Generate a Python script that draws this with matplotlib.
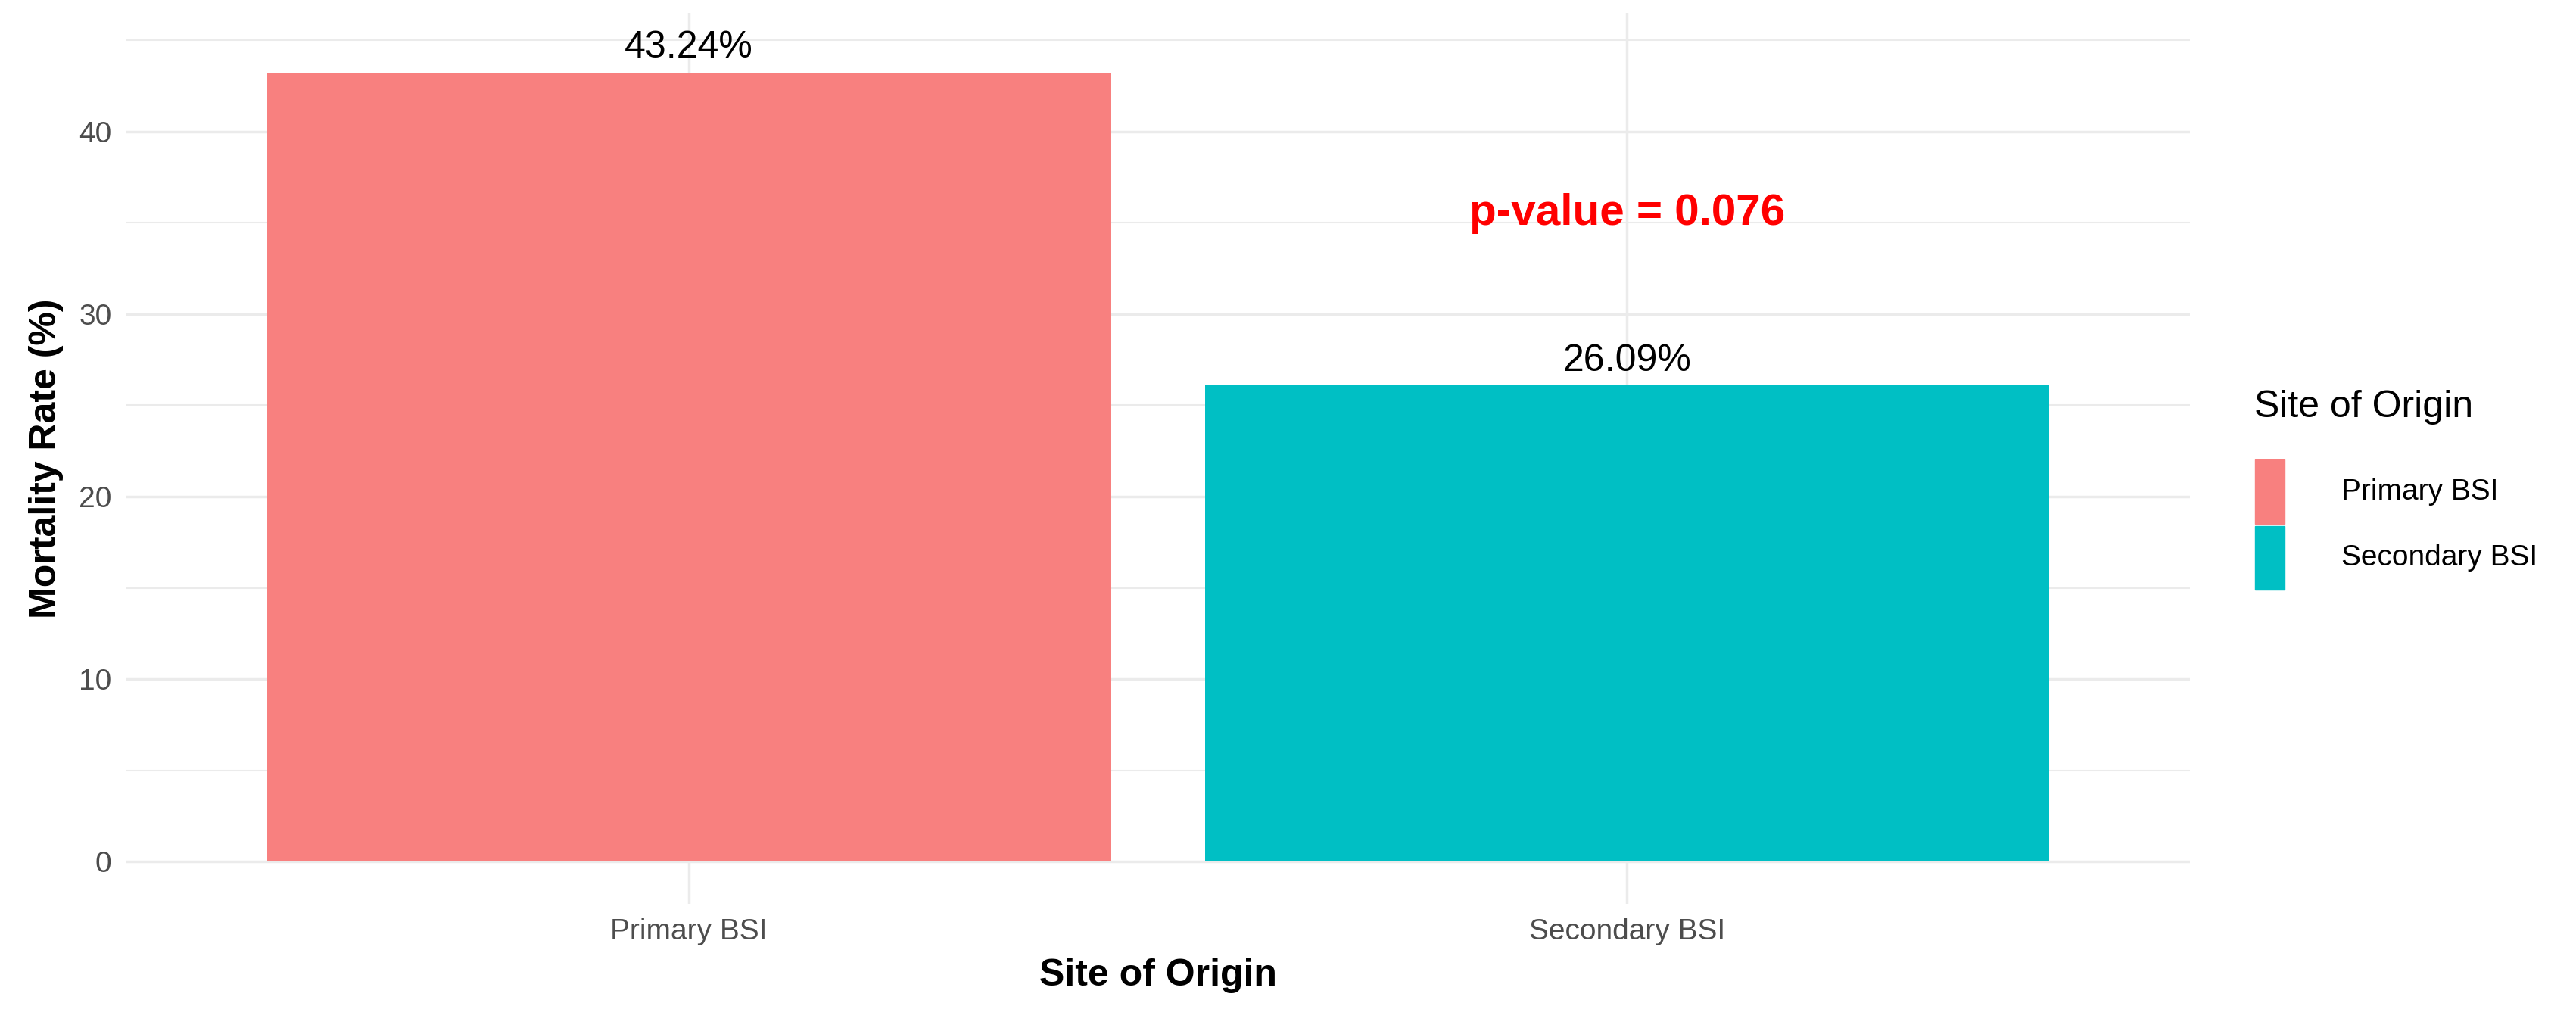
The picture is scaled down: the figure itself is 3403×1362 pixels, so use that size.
import matplotlib
matplotlib.use("Agg")
import matplotlib.pyplot as plt
from matplotlib.patches import Rectangle

plt.rcParams["font.family"] = ["Liberation Sans", "DejaVu Sans"]

categories = ["Primary BSI", "Secondary BSI"]
mortality = [43.24, 26.09]
bar_labels = ["43.24%", "26.09%"]
colors = ["#F8807F", "#00BFC4"]
p_text = "p-value = 0.076"

fig = plt.figure(figsize=(34.03, 13.62), dpi=100)
ax = fig.add_axes([0.049, 0.1235, 0.801, 0.864])

x = [1, 2]
ax.bar(x, mortality, width=0.9, color=colors, zorder=3)
for xi, v, lab in zip(x, mortality, bar_labels):
    ax.text(xi, v + 0.4, lab, ha="center", va="bottom", fontsize=36, color="black", zorder=4)
ax.text(2, 35.5, p_text, ha="center", va="center", fontsize=42, color="red", fontweight="bold", zorder=4)

ax.set_xlim(0.4, 2.6)
ax.set_ylim(-2.3, 46.5)
ax.set_xticks(x)
ax.set_xticklabels(categories)
ax.set_yticks([0, 10, 20, 30, 40])
ax.set_yticks([5, 15, 25, 35, 45], minor=True)
ax.grid(True, which="major", color="#EBEBEB", linewidth=2.5, zorder=0)
ax.grid(True, which="minor", axis="y", color="#EBEBEB", linewidth=1.5, zorder=0)
ax.tick_params(which="both", length=0, labelsize=28, labelcolor="#4D4D4D", pad=14)
for s in ax.spines.values():
    s.set_visible(False)
ax.set_xlabel("Site of Origin", fontsize=36, fontweight="bold", labelpad=12)
ax.set_ylabel("Mortality Rate (%)", fontsize=36, fontweight="bold", labelpad=14)

# legend drawn manually to match ggplot placement
fig.text(0.875, 0.605, "Site of Origin", fontsize=36, va="center", ha="left")
key_y = [0.523, 0.459]
for c, lab, ky in zip(colors, categories, key_y):
    fig.add_artist(Rectangle((0.8755, ky - 0.031), 0.0115, 0.062, transform=fig.transFigure, color=c))
    fig.text(0.909, ky, lab, fontsize=28, va="center", ha="left", color="black")

fig.savefig("out.png", dpi=100)
